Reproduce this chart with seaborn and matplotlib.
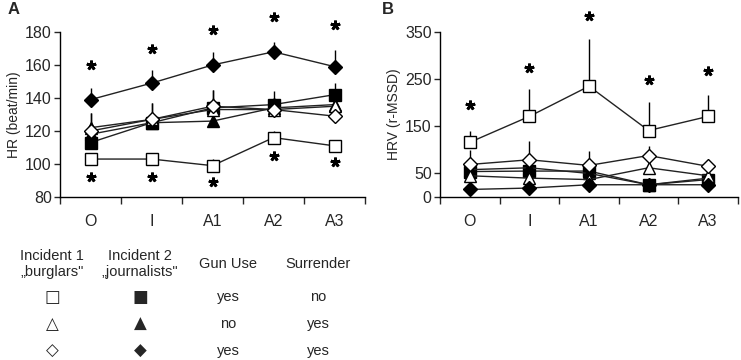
import numpy as np
import pandas as pd
import matplotlib
matplotlib.use('Agg')
import matplotlib.pyplot as plt
import seaborn as sns

sns.set_style('ticks')
plt.rcParams['font.family'] = ['Liberation Sans', 'DejaVu Sans']

# Fases del incidente
fases = ['O', 'I', 'A1', 'A2', 'A3']

# HR (beat/min) - media y extremo superior de la barra de error
hr_sq_open = [103, 103, 99, 116, 111]
hr_sq_open_err = [105, 105, 103, 120, 114]
hr_tri_open = [122, 127, 133, 133, 135]
hr_tri_open_err = [131, 137, 145, 140, 140]
hr_dia_open = [120, 127, 135, 133, 129]
hr_dia_open_err = [131, 137, 145, 140, 134]
hr_sq_fill = [113, 125, 134, 136, 142]
hr_sq_fill_err = [120, 130, 140, 144, 149]
hr_tri_fill = [118, 125, 126, 134, 136]
hr_tri_fill_err = [125, 130, 130, 140, 141]
hr_dia_fill = [139, 149, 160, 168, 159]
hr_dia_fill_err = [146, 157, 168, 174, 169]

# HRV (r-MSSD)
hrv_sq_open = [116, 171, 235, 141, 171]
hrv_sq_open_err = [141, 229, 335, 201, 217]
hrv_tri_open = [45, 40, 37, 62, 45]
hrv_tri_open_err = [60, 60, 55, 80, 55]
hrv_dia_open = [69, 79, 67, 88, 65]
hrv_dia_open_err = [99, 118, 97, 109, 70]
hrv_sq_fill = [54, 55, 55, 26, 37]
hrv_sq_fill_err = [62, 62, 62, 30, 42]
hrv_tri_fill = [58, 62, 50, 26, 40]
hrv_tri_fill_err = [66, 70, 58, 30, 45]
hrv_dia_fill = [16, 19, 26, 26, 26]
hrv_dia_fill_err = [20, 23, 30, 30, 30]

# Posiciones de los asteriscos (significancia)
hr_star_top = [160, 170, 181, 189, 184]
hr_star_bottom = [92, 92, 89, 105, 101]
hrv_star = [196, 274, 383, 249, 267]

# Estilos de cada serie: (marcador, relleno)
estilos = [('s', 'white'), ('^', 'white'), ('D', 'white'),
           ('s', 'black'), ('^', 'black'), ('D', 'black')]
tamanos = {'s': 9, '^': 9, 'D': 7.5}

hr_series = [(hr_sq_open, hr_sq_open_err), (hr_tri_open, hr_tri_open_err),
             (hr_dia_open, hr_dia_open_err), (hr_sq_fill, hr_sq_fill_err),
             (hr_tri_fill, hr_tri_fill_err), (hr_dia_fill, hr_dia_fill_err)]
hrv_series = [(hrv_sq_open, hrv_sq_open_err), (hrv_tri_open, hrv_tri_open_err),
              (hrv_dia_open, hrv_dia_open_err), (hrv_sq_fill, hrv_sq_fill_err),
              (hrv_tri_fill, hrv_tri_fill_err), (hrv_dia_fill, hrv_dia_fill_err)]

fig = plt.figure(figsize=(7.41, 3.6), dpi=100)
axA = fig.add_axes([60 / 741, 1 - 197 / 360, 305 / 741, 165 / 360])
axB = fig.add_axes([440 / 741, 1 - 197 / 360, 298 / 741, 165 / 360])

x = np.arange(len(fases))


def dibujar(ax, series):
    # orden: primero las series rellenas de fondo, luego las abiertas
    orden = [3, 4, 1, 2, 5, 0]
    for i in orden:
        medias, sup = series[i]
        marcador, relleno = estilos[i]
        df = pd.DataFrame({'x': x, 'y': medias})
        ax.errorbar(x, medias, yerr=[np.zeros(5), np.array(sup) - np.array(medias)],
                    fmt='none', ecolor='black', elinewidth=1, capsize=0, zorder=2)
        sns.lineplot(data=df, x='x', y='y', ax=ax, color='#222222', lw=1,
                     marker=marcador, markersize=tamanos[marcador],
                     markerfacecolor=relleno, markeredgecolor='black',
                     markeredgewidth=1, zorder=3)


def asteriscos(ax, ys):
    ax.plot(x, ys, ls='none', marker=(5, 2, 0), ms=7, mew=2,
            color='black', clip_on=False, zorder=4)


def formato(ax, ylim, yticks, ylabel):
    ax.set_xlim(-0.5, 4.5)
    ax.set_ylim(*ylim)
    ax.set_yticks(yticks)
    ax.set_xticks(x)
    ax.set_xticklabels(fases)
    ax.set_xticks(np.arange(-0.5, 5, 1), minor=True)
    ax.tick_params(axis='x', which='major', length=0, pad=12, labelsize=11.5)
    ax.tick_params(axis='x', which='minor', length=5, width=1, direction='out')
    ax.tick_params(axis='y', length=4, width=1, labelsize=11.5, pad=2)
    ax.set_xlabel('')
    ax.set_ylabel(ylabel, fontsize=10, labelpad=3)
    sns.despine(ax=ax)
    for s in ['left', 'bottom']:
        ax.spines[s].set_linewidth(1)
        ax.spines[s].set_color('black')


dibujar(axA, hr_series)
formato(axA, (80, 180), range(80, 181, 20), 'HR (beat/min)')
asteriscos(axA, hr_star_top)
asteriscos(axA, hr_star_bottom)

dibujar(axB, hrv_series)
formato(axB, (0, 350), [0, 50, 150, 250, 350], 'HRV (r-MSSD)')
asteriscos(axB, hrv_star)

fig.text(8 / 741, 1 - 10 / 360, 'A', fontsize=12, fontweight='bold', va='center')
fig.text(382 / 741, 1 - 10 / 360, 'B', fontsize=12, fontweight='bold', va='center')

# Tabla de leyenda
cols_x = [52, 140, 228, 318]
encabezados = ['Incident 1\n\u201eburglars"', 'Incident 2\n\u201ejournalists"', 'Gun Use', 'Surrender']
for cx, txt in zip(cols_x, encabezados):
    fig.text(cx / 741, 1 - 264 / 360, txt, ha='center', va='center',
             fontsize=10.5, linespacing=1.2)

simb_abiertos = ['\u25a1', '\u25b3', '\u25c7']
simb_rellenos = ['\u25a0', '\u25b2', '\u25c6']
gun_use = ['yes', 'no', 'yes']
surrender = ['no', 'yes', 'yes']
filas_y = [297, 324, 351]
for fy, a, r, g, s in zip(filas_y, simb_abiertos, simb_rellenos, gun_use, surrender):
    fig.text(cols_x[0] / 741, 1 - fy / 360, a, ha='center', va='center',
             fontsize=12, family='DejaVu Sans')
    fig.text(cols_x[1] / 741, 1 - fy / 360, r, ha='center', va='center',
             fontsize=12, family='DejaVu Sans')
    fig.text(cols_x[2] / 741, 1 - fy / 360, g, ha='center', va='center', fontsize=10.5)
    fig.text(cols_x[3] / 741, 1 - fy / 360, s, ha='center', va='center', fontsize=10.5)

fig.savefig('out.png', dpi=100)
